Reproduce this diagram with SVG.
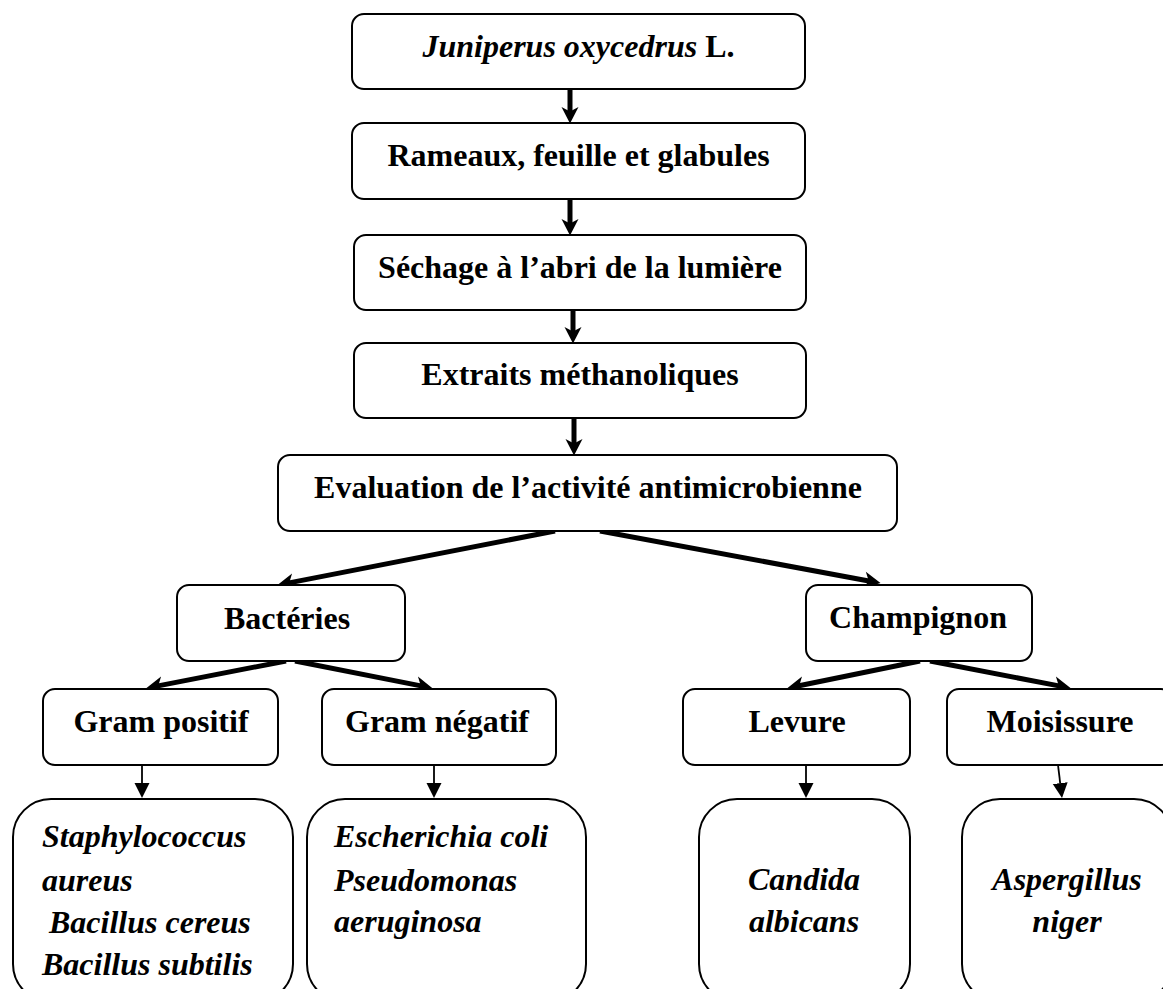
<svg xmlns="http://www.w3.org/2000/svg" width="1163" height="989" viewBox="0 0 1163 989">
  <style>
    .box { fill: #ffffff; stroke: #000000; stroke-width: 2; }
    .t { font-family: "Liberation Serif", "Times New Roman", serif; font-size: 32px; font-weight: bold; fill: #000000; }
    .c { text-anchor: middle; }
    .it { font-style: italic; }
    .thick { stroke: #000000; stroke-width: 5; fill: none; }
    .thin { stroke: #000000; stroke-width: 1.8; fill: none; }
  </style>
  <defs>
    <marker id="ah" markerUnits="userSpaceOnUse" viewBox="-7 -9 19 18" markerWidth="19" markerHeight="18" refX="0" refY="0" orient="auto">
      <path d="M10.5,0 L-6,-8.5 L-1.5,0 L-6,8.5 Z" fill="#000000"/>
    </marker>
    <marker id="tah" markerUnits="userSpaceOnUse" viewBox="0 -8 16 16" markerWidth="16" markerHeight="16" refX="0" refY="0" orient="auto">
      <path d="M0,-7.5 L15,0 L0,7.5 Z" fill="#000000"/>
    </marker>
  </defs>
  <rect width="1163" height="989" fill="#ffffff"/>

  <g id="connectors">
    <line class="thick" x1="570" y1="89" x2="570" y2="113" marker-end="url(#ah)"/>
    <line class="thick" x1="570" y1="199" x2="570" y2="225" marker-end="url(#ah)"/>
    <line class="thick" x1="573" y1="310" x2="573" y2="333" marker-end="url(#ah)"/>
    <line class="thick" x1="574" y1="418" x2="574" y2="445" marker-end="url(#ah)"/>
    <line class="thick" x1="555" y1="531" x2="287.8" y2="583.1" marker-end="url(#ah)"/>
    <line class="thick" x1="600" y1="531" x2="870.2" y2="581.2" marker-end="url(#ah)"/>
    <line class="thick" x1="286" y1="661" x2="156.8" y2="686.1" marker-end="url(#ah)"/>
    <line class="thick" x1="295" y1="661" x2="422.2" y2="686.1" marker-end="url(#ah)"/>
    <line class="thick" x1="920" y1="661" x2="797.8" y2="686" marker-end="url(#ah)"/>
    <line class="thick" x1="930" y1="661" x2="1060.2" y2="686.1" marker-end="url(#ah)"/>
    <line class="thin" x1="142" y1="765" x2="142" y2="783" marker-end="url(#tah)"/>
    <line class="thin" x1="434" y1="765" x2="434" y2="783" marker-end="url(#tah)"/>
    <line class="thin" x1="806" y1="765" x2="806" y2="783" marker-end="url(#tah)"/>
    <line class="thin" x1="1058" y1="765" x2="1060.2" y2="783.1" marker-end="url(#tah)"/>
  </g>

  <g id="juniperus">
    <rect class="box" x="352" y="14" width="453" height="75" rx="12"/>
    <text class="t c" x="578.5" y="57"><tspan class="it">Juniperus oxycedrus</tspan> L.</text>
  </g>
  <g id="rameaux">
    <rect class="box" x="352" y="123" width="453" height="76" rx="12"/>
    <text class="t c" x="578.5" y="166">Rameaux, feuille et glabules</text>
  </g>
  <g id="sechage">
    <rect class="box" x="354" y="235" width="452" height="75" rx="12"/>
    <text class="t c" x="580" y="278">Séchage à l’abri de la lumière</text>
  </g>
  <g id="extraits">
    <rect class="box" x="354" y="343" width="452" height="75" rx="12"/>
    <text class="t c" x="580" y="385">Extraits méthanoliques</text>
  </g>
  <g id="evaluation">
    <rect class="box" x="278" y="455" width="619" height="76" rx="12"/>
    <text class="t c" x="588" y="498">Evaluation de l’activité antimicrobienne</text>
  </g>
  <g id="bacteries">
    <rect class="box" x="177" y="585" width="228" height="76" rx="12"/>
    <text class="t c" x="287" y="629">Bactéries</text>
  </g>
  <g id="champignon">
    <rect class="box" x="806" y="585" width="226" height="76" rx="12"/>
    <text class="t c" x="918" y="628">Champignon</text>
  </g>
  <g id="gram-positif">
    <rect class="box" x="43" y="689" width="235" height="76" rx="12"/>
    <text class="t c" x="161" y="732">Gram positif</text>
  </g>
  <g id="gram-negatif">
    <rect class="box" x="322" y="689" width="234" height="76" rx="12"/>
    <text class="t c" x="437" y="732">Gram négatif</text>
  </g>
  <g id="levure">
    <rect class="box" x="683" y="689" width="227" height="76" rx="12"/>
    <text class="t c" x="797" y="732">Levure</text>
  </g>
  <g id="moisissure">
    <rect class="box" x="947" y="689" width="226" height="76" rx="12"/>
    <text class="t c" x="1060" y="732">Moisissure</text>
  </g>
  <g id="leaf-gram-positif">
    <rect class="box" x="13" y="799" width="280" height="203" rx="38"/>
    <text class="t it" x="42" y="847">Staphylococcus</text>
    <text class="t it" x="42" y="891">aureus</text>
    <text class="t it" x="49" y="933">Bacillus cereus</text>
    <text class="t it" x="42" y="975">Bacillus subtilis</text>
  </g>
  <g id="leaf-gram-negatif">
    <rect class="box" x="307" y="799" width="279" height="203" rx="38"/>
    <text class="t it" x="334" y="847">Escherichia coli</text>
    <text class="t it" x="334" y="891">Pseudomonas</text>
    <text class="t it" x="334" y="932">aeruginosa</text>
  </g>
  <g id="leaf-levure">
    <rect class="box" x="699" y="799" width="211" height="203" rx="38"/>
    <text class="t it c" x="804" y="890">Candida</text>
    <text class="t it c" x="804" y="932">albicans</text>
  </g>
  <g id="leaf-moisissure">
    <rect class="box" x="962" y="799" width="210" height="203" rx="38"/>
    <text class="t it c" x="1067" y="890">Aspergillus</text>
    <text class="t it c" x="1067" y="932">niger</text>
  </g>
</svg>
